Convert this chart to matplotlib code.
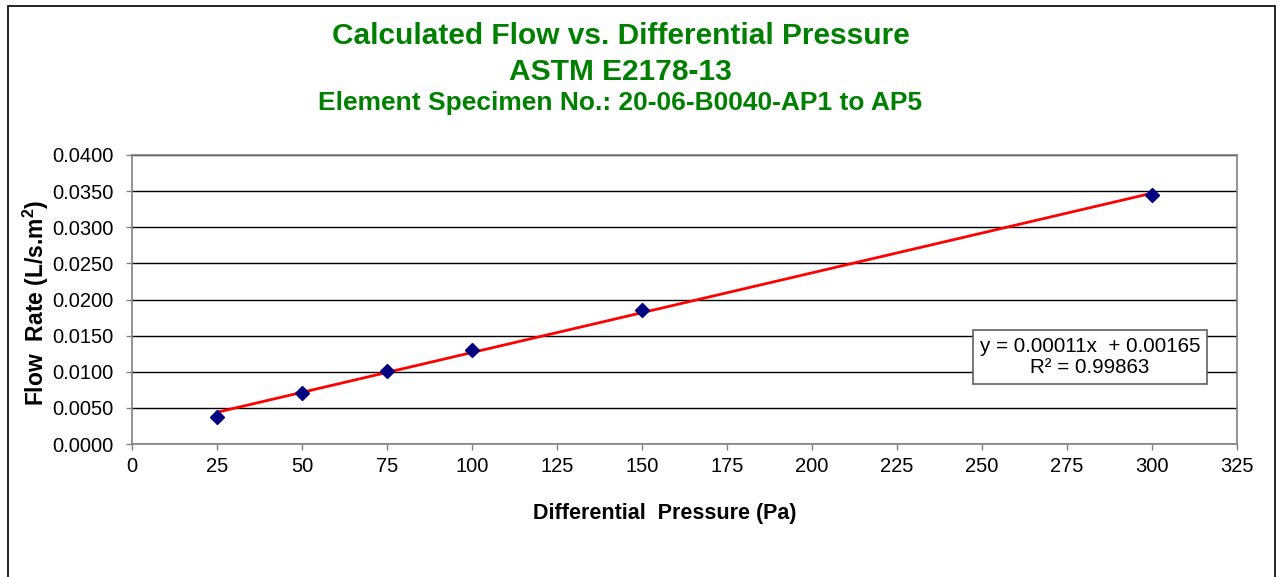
import matplotlib
matplotlib.use("Agg")
import matplotlib.pyplot as plt
import numpy as np
from matplotlib.patches import Rectangle

# Data
pressure_pa = [25, 50, 75, 100, 150, 300]
flow_rate = [0.0038, 0.0071, 0.0101, 0.0130, 0.0186, 0.0344]
x_ticks = [0, 25, 50, 75, 100, 125, 150, 175, 200, 225, 250, 275, 300, 325]
y_ticks = [0.0, 0.005, 0.010, 0.015, 0.020, 0.025, 0.030, 0.035, 0.040]
title_lines = ["Calculated Flow vs. Differential Pressure", "ASTM E2178-13",
               "Element Specimen No.: 20-06-B0040-AP1 to AP5"]
fit_text = "y = 0.00011x  + 0.00165\nR\u00b2 = 0.99863"

plt.rcParams['font.family'] = ['Liberation Sans', 'DejaVu Sans']
plt.rcParams['mathtext.fontset'] = 'custom'
plt.rcParams['mathtext.rm'] = 'Liberation Sans'
plt.rcParams['mathtext.bf'] = 'Liberation Sans:bold'

W, H = 1286, 577
fig = plt.figure(figsize=(W / 100, H / 100), dpi=100)
fig.patch.set_facecolor('white')

# outer chart border
fig.add_artist(Rectangle((8 / W, -0.1), (1275 - 8) / W, 1.1 - 6 / H,
                         transform=fig.transFigure, fill=False,
                         edgecolor='black', linewidth=1.2))

left, right, top, bottom = 132, 1237, 155, 444
ax = fig.add_axes([left / W, 1 - bottom / H, (right - left) / W, (bottom - top) / H])

ax.set_xlim(0, 325)
ax.set_ylim(0, 0.04)
ax.set_xticks(x_ticks)
ax.set_yticks(y_ticks)
ax.set_yticklabels([f"{v:.4f}" for v in y_ticks])
ax.set_xticklabels([str(v) for v in x_ticks])
ax.tick_params(axis='both', direction='out', length=4.5, width=1, color='#808080',
               labelsize=14.5)
ax.tick_params(axis='y', pad=9)
ax.tick_params(axis='x', pad=5)
for s in ax.spines.values():
    s.set_color('#808080')
    s.set_linewidth(1.2)
ax.yaxis.grid(True, color='black', linewidth=1)
ax.set_axisbelow(True)

# trendline
coef = np.polyfit(pressure_pa, flow_rate, 1)
xs = np.array([min(pressure_pa), max(pressure_pa)])
ax.plot(xs, np.polyval(coef, xs), color='#ff0000', linewidth=2, zorder=3)
ax.plot(pressure_pa, flow_rate, linestyle='none', marker='D', markersize=7.5,
        color='#000080', zorder=4)

# trendline label box
fig.add_artist(Rectangle((973 / W, 1 - 384 / H), (1207 - 973) / W, (384 - 330) / H,
                         transform=fig.transFigure, facecolor='white',
                         edgecolor='#606060', linewidth=1.2, zorder=5))
fig.text(1090 / W, 1 - 357 / H, fit_text, ha='center', va='center', fontsize=14.8,
         linespacing=1.15, zorder=6)

green = '#008000'
fig.text(621 / W, 1 - 36 / H, title_lines[0], color=green, fontsize=21.5,
         fontweight='bold', ha='center', va='center')
fig.text(620 / W, 1 - 72 / H, title_lines[1], color=green, fontsize=21.5,
         fontweight='bold', ha='center', va='center')
fig.text(620 / W, 1 - 103 / H, title_lines[2], color=green, fontsize=19,
         fontweight='bold', ha='center', va='center')

fig.text(36 / W, 1 - 303 / H, r"Flow  Rate (L/s.m$^\mathbf{2}$)", rotation=90,
         fontsize=16.5, fontweight='bold', ha='center', va='center')
fig.text(665 / W, 1 - 513 / H, "Differential  Pressure (Pa)", fontsize=15.5,
         fontweight='bold', ha='center', va='center')

fig.savefig('out.png', dpi=100, facecolor='white')
